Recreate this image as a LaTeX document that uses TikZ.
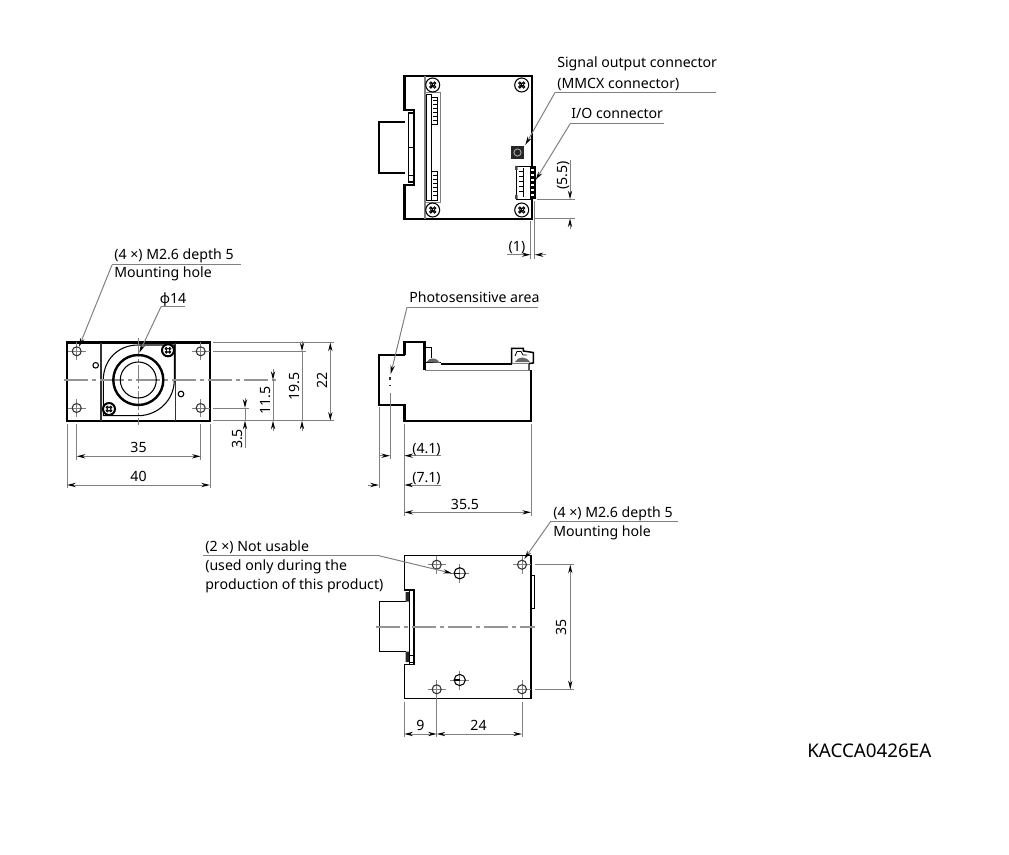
\documentclass[tikz,border=0pt]{standalone}
\usepackage{fontspec}
\setmainfont{Noto Sans}
\usetikzlibrary{arrows.meta}
\definecolor{thinline}{gray}{0.5}
\definecolor{centerline}{gray}{0.58}
\tikzset{
  x=0.75pt,y=-0.75pt,
  thickedge/.style={draw=black,line width=1.6pt,line join=miter},
  medium/.style={draw=black,line width=1.1pt},
  thinedge/.style={draw=black,line width=0.6pt},
  grayedge/.style={draw=thinline,line width=0.75pt},
  extline/.style={draw=thinline,line width=0.75pt},
  dimline/.style={draw=thinline,line width=0.75pt},
  axisline/.style={draw=centerline,line width=0.9pt,dash pattern=on 18pt off 3pt on 3pt off 3pt},
  tipend/.style={-{Stealth[length=6.5pt,width=3.2pt,color=black]}},
  bothend/.style={{Stealth[length=6.5pt,width=3.2pt,color=black]}-{Stealth[length=6.5pt,width=3.2pt,color=black]}},
  leader/.style={draw=thinline,line width=0.75pt},
  lbl/.style={inner sep=0pt,font=\fontsize{10.6pt}{12pt}\selectfont,text=black},
  lblw/.style={lbl,anchor=base west},
  lblc/.style={lbl,anchor=base},
  lblr/.style={lbl,anchor=base,rotate=90},
  screwhead/.pic={
    \draw[draw=black,line width=0.8pt,fill=white] (0,0) circle (7);
    \draw[draw=black,line width=0.7pt] (-1.9,-1.9) circle (1.2) (1.9,-1.9) circle (1.2) (-1.9,1.9) circle (1.2) (1.9,1.9) circle (1.2);
    \draw[draw=black,line width=0.7pt] (-2.2,0) -- (2.2,0) (0,-2.2) -- (0,2.2);
  },
  heavyscrew/.pic={
    \draw[draw=black,line width=1.5pt,fill=white] (0,0) circle (6);
    \draw[draw=black,line width=0.7pt] (-1.7,-1.7) circle (1.1) (1.7,-1.7) circle (1.1) (-1.7,1.7) circle (1.1) (1.7,1.7) circle (1.1);
  },
  holemark/.pic={
    \draw[grayedge] (-9,0) -- (9,0) (0,-9) -- (0,9);
    \draw[draw=black!80,line width=0.8pt] (0,0) circle (4.5);
  },
  bighole/.pic={
    \draw[grayedge] (-9.5,0) -- (9.5,0) (0,-9.5) -- (0,9.5);
    \draw[draw=black,line width=0.8pt] (0,0) circle (5.6);
    \draw[draw=black,line width=0.8pt] (-5.6,0) -- (0,0);
  }
}
\begin{document}
\begin{tikzpicture}
\useasboundingbox (0,0) rectangle (1009,855);

% ---------- top view ----------
\draw[thickedge] (532,166) -- (532,76) -- (404.5,76) -- (404.5,110) -- (414,110) -- (414,185) -- (404.5,185) -- (404.5,219) -- (532,219) -- (532,199);
\draw[thickedge] (405,122) -- (379,122) -- (379,173) -- (405,173);
\draw[medium] (408.5,113) rectangle (414,182);
\draw[thinedge] (408.5,147) -- (414,147) (408.5,175) -- (414,175);
\draw[thinline,line width=0.75pt] (424,76) -- (424,219) (425.5,76) -- (425.5,219);
\draw[grayedge,fill=white] (425,92.7) rectangle (440.7,202.7);
\draw[draw=black,line width=1pt,fill=white] (426.5,94.5) rectangle (431.7,200.7);
\draw[thinedge] (431.7,97) rectangle (437.3,124) (431.7,171.7) rectangle (437.3,200);
\foreach \yy in {100,104,108,112,116,120,175,179,183,187,191,195}
  \draw[draw=black,line width=0.7pt] (433,\yy) -- (437,\yy);
\pic at (432.7,85) {screwhead};
\pic at (521.7,85) {screwhead};
\pic at (432.7,210) {screwhead};
\pic at (521.7,210) {screwhead};
% MMCX
\fill[black!85] (510.7,145.7) rectangle (524.3,159.3);
\draw[draw=black!30,line width=0.6pt] (517.5,152.5) circle (3.6);
% I/O connector
\draw[thinedge,fill=white] (516.7,166) rectangle (530,199);
\fill[black] (529.5,166) rectangle (535.7,199.3);
\foreach \yy in {170,175,180,185,190,195}
  \fill[white] (530.8,\yy-1.3) rectangle (533.8,\yy+1.5);
\foreach \yy in {171,176,181,186,191}
  \draw[thinedge] (519,\yy) -- (523,\yy);
\draw[thinedge] (523,168) -- (523,197);
\fill[black!70] (515,166) rectangle (517.5,170) (515,195) rectangle (517.5,199);

% top view dimensions
\coordinate (t55a) at (537,199.3);
\coordinate (t55b) at (575,199.3);
\coordinate (t55c) at (535,218.5);
\coordinate (t55d) at (575,218.5);
\draw[extline] (t55a) -- (t55b) (t55c) -- (t55d);
\draw[dimline,tipend] (570,160) -- (570,199.3);
\draw[dimline,tipend] (570,229) -- (570,218.5);
\node[lblr] (d55) at (567,175.5) {(5.5)};
\draw[extline] (530.5,221) -- (530.5,259) (534.7,201) -- (534.7,259);
\draw[dimline,tipend] (507,254.7) -- (530.5,254.7);
\draw[dimline,tipend] (546,254.7) -- (534.7,254.7);
\node[lblc] (d1) at (517,252) {(1)};

% top leaders
\node[lblw] (sig1) at (557,68) {Signal output connector};
\node[lblw] (sig2) at (557,89) {(MMCX connector)};
\coordinate (sigA) at (555,92.5);
\coordinate (sigE) at (716,92.5);
\coordinate (sigT) at (525.3,145);
\draw[leader] (sigE) -- (sigA);
\draw[leader,tipend] (sigA) -- (sigT);
\node[lblw] (io) at (571,119) {I/O connector};
\coordinate (ioA) at (570,124);
\coordinate (ioE) at (664,124);
\coordinate (ioT) at (535.7,180);
\draw[leader] (ioE) -- (ioA);
\draw[leader,tipend] (ioA) -- (ioT);

% ---------- front view ----------
\draw[thickedge] (67,342.5) rectangle (210,420.7);
\draw[draw=black!80,line width=1.1pt] (101,342.5) -- (101,420.7) (175.3,342.5) -- (175.3,420.7);
\draw[draw=black,line width=0.8pt] (174.3,345) -- (138,345) .. controls (118,345) and (103.3,360) .. (103.3,380) -- (103.3,415.7) -- (138,415.7) .. controls (158,415.7) and (174.3,400) .. (174.3,380) -- cycle;
\draw[axisline] (64,380) -- (277,380);
\draw[grayedge,dash pattern=on 14pt off 2pt on 2pt off 2pt] (138.3,338) -- (138.3,425);
\draw[draw=black,line width=1.8pt] (138.3,380) circle (25);
\draw[draw=black,line width=0.8pt] (138.3,380) circle (18);
\pic at (76.7,351.3) {holemark};
\pic at (200.7,351.3) {holemark};
\pic at (76.7,408) {holemark};
\pic at (200.7,408) {holemark};
\draw[draw=black,line width=0.8pt] (95.7,365.3) circle (2.8) (181,394) circle (2.8);
\pic at (168,350.3) {heavyscrew};
\pic at (109,409) {heavyscrew};

% front dims
\draw[extline] (213,342.5) -- (334,342.5) (213,420.7) -- (334,420.7) (213,351.3) -- (306,351.3) (213,408) -- (249,408);
\draw[dimline,bothend] (330.3,342.5) -- (330.3,420.7);
\node[lblr] (d22) at (327,380) {22};
\draw[dimline,tipend] (302,341) -- (302,351.3);
\draw[dimline,tipend] (302,431) -- (302,420.7);
\draw[dimline] (302,351.3) -- (302,420.7);
\node[lblr] (d195) at (299,386.7) {19.5};
\draw[dimline,tipend] (273,369) -- (273,380);
\draw[dimline] (273,380) -- (273,420.7);
\draw[dimline,tipend] (273,431) -- (273,420.7);
\node[lblr] (d115) at (270,400.7) {11.5};
\draw[dimline,tipend] (245,398) -- (245,408);
\draw[dimline] (245,408) -- (245,420.7);
\draw[dimline,tipend] (245,448) -- (245,420.7);
\node[lblr] (d35s) at (242,439) {3.5};
\draw[extline] (76.7,424) -- (76.7,460) (200.7,424) -- (200.7,460) (67,424) -- (67,488) (210,424) -- (210,488);
\draw[dimline,bothend] (76.7,456.3) -- (200.7,456.3);
\node[lblc] (d35) at (138.5,452) {35};
\draw[dimline,bothend] (67,485) -- (210,485);
\node[lblc] (d40) at (138.5,481) {40};

% front leaders
\node[lblw] (fh1) at (114,260) {(4 ×) M2.6 depth 5};
\node[lblw] (fh2) at (114,278) {Mounting hole};
\coordinate (fhA) at (112,265);
\coordinate (fhE) at (241,265);
\coordinate (fhT) at (79,346.7);
\draw[leader] (fhE) -- (fhA);
\draw[leader,tipend] (fhA) -- (fhT);
\node[lblc] (phi) at (173,304) {ϕ14};
\coordinate (phA) at (161,306.7);
\coordinate (phE) at (185,306.7);
\coordinate (phT) at (139.3,352.7);
\draw[leader] (phE) -- (phA);
\draw[leader,tipend] (phA) -- (phT);

% ---------- side view ----------
\draw[thickedge] (404.5,355) -- (379,355) -- (379,405) -- (404.5,405) -- (404.5,420.7) -- (530.7,420.7) -- (530.7,370);
\draw[thickedge] (404.5,355) -- (404.5,342.3) -- (424.5,342.3) -- (424.5,370);
\draw[thickedge] (441,364.3) -- (511.7,364.3);
\draw[grayedge] (425,370) -- (530,370);
\draw[thinedge] (425,362) -- (441,362);
\draw[medium] (425,347.5) -- (431.7,347.5) -- (431.7,358);
\fill[black!60] (426.7,362) .. controls (429,357) and (437,357) .. (440,363) -- cycle;
\draw[medium] (511.7,364.3) -- (511.7,348.3) -- (523.3,348.3) -- (523.3,351) -- (533.3,352.5) -- (533.3,363) -- (529,363.5) -- (529,370);
\draw[thinedge] (515,356) -- (517,351.5) -- (521,351.5) -- (523,355) -- (527,355);
\fill[black!60] (515,362) .. controls (518,356) and (526,356) .. (530,362) -- cycle;
\draw[draw=thinline,line width=0.6pt] (512,363) -- (529,363);
\draw[draw=black!80,line width=0.8pt] (390,376.5) -- (390,380) (390,384.5) -- (390,386);

% side dims
\draw[extline] (390,393) -- (390,459) (379,407) -- (379,488) (404.3,424) -- (404.3,516) (531,424) -- (531,516);
\draw[dimline,tipend] (380,455.7) -- (390,455.7);
\draw[dimline,tipend] (441,455.7) -- (404.3,455.7);
\node[lblw] (d41) at (412,453) {(4.1)};
\draw[dimline,tipend] (368,485) -- (379,485);
\draw[dimline,tipend] (441,485) -- (404.3,485);
\node[lblw] (d71) at (412,482) {(7.1)};
\draw[dimline,bothend] (404.3,512.3) -- (531,512.3);
\node[lblc] (d355) at (465,509) {35.5};
\node[lblw] (ph) at (409,303) {Photosensitive area};
\coordinate (psA) at (407,307.3);
\coordinate (psE) at (538,307.3);
\coordinate (psT) at (390.7,374);
\draw[leader] (psE) -- (psA);
\draw[leader,tipend] (psA) -- (psT);

% ---------- bottom view ----------
\draw[draw=black,line width=0.9pt] (404.3,555.7) -- (531,555.7) -- (531,698.3) -- (404.3,698.3) -- (404.3,664.3) -- (414,664.3) -- (414,590) -- (404.3,590) -- cycle;
\draw[draw=black,line width=1pt] (406,601.7) -- (379.3,601.7) -- (379.3,651.7) -- (406,651.7);
\fill[black!85] (405.5,592) rectangle (409,601.7) (405.5,651.7) rectangle (409,662);
\draw[thinedge] (409,590) -- (409,664.3) (409,655) rectangle (414,662);
\draw[draw=black,line width=0.8pt] (531,575.7) rectangle (534.7,608.3);
\draw[axisline] (376,627) -- (535,627);
\pic at (436.7,564.7) {holemark};
\pic at (522,564.7) {holemark};
\pic at (436.7,689.3) {holemark};
\pic at (522,689.3) {holemark};
\pic at (459.7,573.3) {bighole};
\pic at (459.7,680) {bighole};

% bottom dims
\draw[extline] (535,564.7) -- (574,564.7) (535,689.3) -- (574,689.3);
\draw[dimline,bothend] (570.3,564.7) -- (570.3,689.3);
\node[lblr] (d35v) at (566,627) {35};
\draw[extline] (404.3,702) -- (404.3,737) (436.7,698) -- (436.7,737) (522,702) -- (522,737);
\draw[dimline,bothend] (404.3,734) -- (436.7,734);
\draw[dimline,bothend] (436.7,734) -- (522,734);
\node[lblc] (d9) at (420.5,730) {9};
\node[lblc] (d24) at (478.5,730) {24};

% bottom leaders
\node[lblw] (bh1) at (553,517) {(4 ×) M2.6 depth 5};
\node[lblw] (bh2) at (553,536) {Mounting hole};
\coordinate (bhA) at (551,521);
\coordinate (bhE) at (678,521);
\coordinate (bhT) at (524.3,559);
\draw[leader] (bhE) -- (bhA);
\draw[leader,tipend] (bhA) -- (bhT);
\node[lblw] (nu1) at (205,551) {(2 ×) Not usable};
\node[lblw] (nu2) at (205,570) {(used only during the};
\node[lblw] (nu3) at (205,589) {production of this product)};
\coordinate (nuA) at (378,555.5);
\coordinate (nuE) at (203,555.5);
\coordinate (nuT) at (452,573.3);
\draw[leader] (nuE) -- (nuA);
\draw[leader,tipend] (nuA) -- (nuT);

\node[inner sep=0pt,anchor=base west,font=\fontsize{14.1pt}{16pt}\selectfont,text=black] (code) at (807,757) {KACCA0426EA};
\end{tikzpicture}
\end{document}
